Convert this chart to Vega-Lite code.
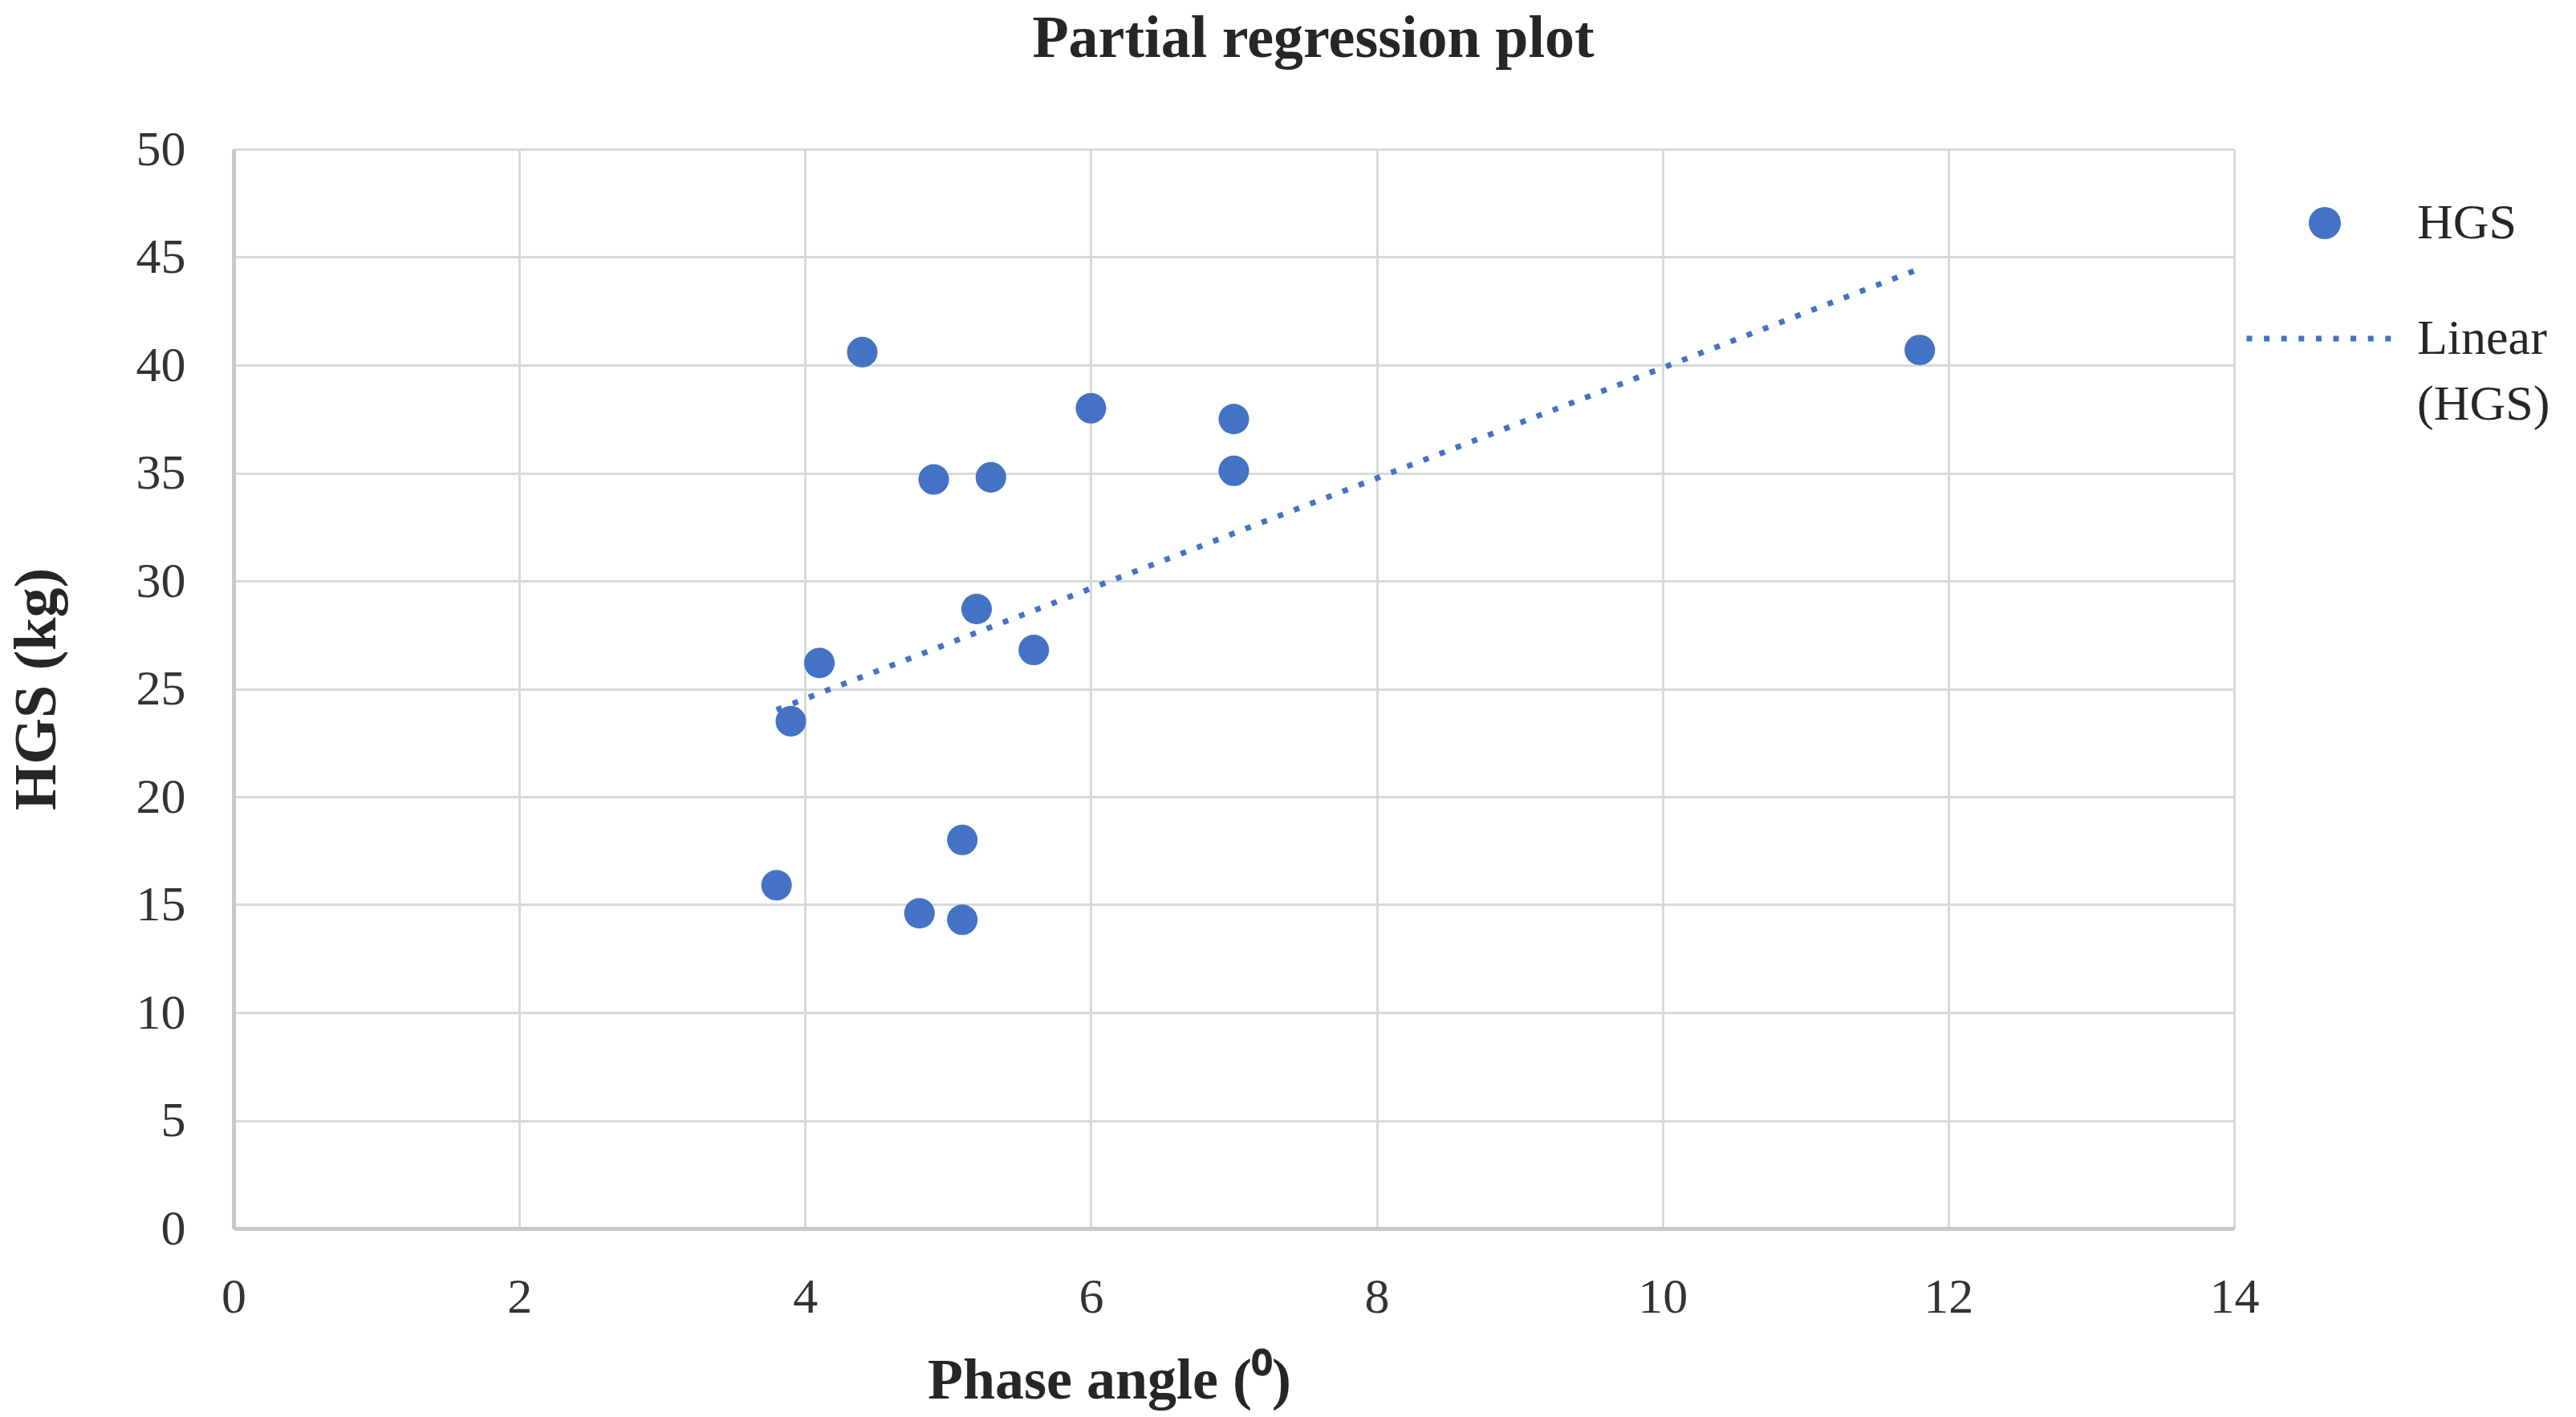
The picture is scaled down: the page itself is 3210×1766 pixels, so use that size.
{
  "$schema": "https://vega.github.io/schema/vega-lite/v6.json",
  "width": 2493,
  "height": 1345,
  "autosize": {"type": "none"},
  "padding": {"left": 291, "top": 186, "right": 426, "bottom": 235},
  "background": "white",
  "config": {
    "view": {"stroke": null},
    "font": "Liberation Serif",
    "style": {"guide-label": {"lineHeight": 82}}
  },
  "title": {
    "text": "Partial regression plot",
    "font": "Liberation Serif",
    "fontSize": 74,
    "fontWeight": "bold",
    "color": "#262626",
    "anchor": "middle",
    "frame": "group",
    "baseline": "alphabetic",
    "offset": 10,
    "dx": 99
  },
  "data": {
    "values": [
      {"pa": 3.8, "hgs": 15.9},
      {"pa": 3.9, "hgs": 23.5},
      {"pa": 4.1, "hgs": 26.2},
      {"pa": 4.4, "hgs": 40.6},
      {"pa": 4.8, "hgs": 14.6},
      {"pa": 4.9, "hgs": 34.7},
      {"pa": 5.1, "hgs": 18.0},
      {"pa": 5.1, "hgs": 14.3},
      {"pa": 5.2, "hgs": 28.7},
      {"pa": 5.3, "hgs": 34.8},
      {"pa": 5.6, "hgs": 26.8},
      {"pa": 6.0, "hgs": 38.0},
      {"pa": 7.0, "hgs": 37.5},
      {"pa": 7.0, "hgs": 35.1},
      {"pa": 11.8, "hgs": 40.7}
    ]
  },
  "layer": [
    {
      "mark": {"type": "point", "filled": true, "opacity": 1, "size": 1450, "shape": "circle"},
      "encoding": {
        "x": {
          "field": "pa",
          "type": "quantitative",
          "scale": {"domain": [0, 14], "nice": false, "zero": false},
          "axis": {
            "values": [0, 2, 4, 6, 8, 10, 12, 14],
            "format": "d",
            "title": "Phase angle (⁰)",
            "titleFont": "Liberation Serif",
            "titleFontSize": 72,
            "titleFontWeight": "bold",
            "titleColor": "#262626",
            "titlePadding": 38,
            "titleX": 1091,
            "labelFont": "Liberation Serif",
            "labelFontSize": 62,
            "labelColor": "#333333",
            "labelPadding": 55,
            "labelFlush": false,
            "labelOverlap": false,
            "tickSize": 0,
            "grid": true,
            "gridColor": "#d9d9d9",
            "gridWidth": 3,
            "domainColor": "#c8c8c8",
            "domainWidth": 5
          }
        },
        "y": {
          "field": "hgs",
          "type": "quantitative",
          "scale": {"domain": [0, 50], "nice": false},
          "axis": {
            "values": [0, 5, 10, 15, 20, 25, 30, 35, 40, 45, 50],
            "title": "HGS (kg)",
            "titleFont": "Liberation Serif",
            "titleFontSize": 74,
            "titleFontWeight": "bold",
            "titleColor": "#262626",
            "titlePadding": 85,
            "labelFont": "Liberation Serif",
            "labelFontSize": 62,
            "labelColor": "#333333",
            "labelPadding": 60,
            "labelFlush": false,
            "labelOverlap": false,
            "tickSize": 0,
            "grid": true,
            "gridColor": "#d9d9d9",
            "gridWidth": 3,
            "domainColor": "#c8c8c8",
            "domainWidth": 5
          }
        },
        "color": {
          "datum": "HGS",
          "type": "nominal",
          "scale": {"domain": ["HGS"], "range": ["#4472C4"]},
          "legend": {
            "orient": "none",
            "legendX": 2575,
            "legendY": 61,
            "title": null,
            "symbolType": "circle",
            "symbolSize": 1600,
            "symbolStrokeWidth": 0,
            "symbolOpacity": 1,
            "labelOffset": 84,
            "labelFont": "Liberation Serif",
            "labelFontSize": 62,
            "labelColor": "#262626",
            "labelLimit": 0,
            "padding": 0
          }
        }
      }
    },
    {
      "transform": [{"regression": "hgs", "on": "pa", "extent": [3.8, 11.8]}],
      "mark": {"type": "line", "color": "#4472C4", "strokeWidth": 7},
      "encoding": {
        "x": {"field": "pa", "type": "quantitative"},
        "y": {"field": "hgs", "type": "quantitative"},
        "strokeDash": {
          "datum": "Linear (HGS)",
          "type": "nominal",
          "scale": {"domain": ["Linear (HGS)"], "range": [[7, 14.6]]},
          "legend": {
            "orient": "none",
            "legendX": 2505,
            "legendY": 140,
            "title": null,
            "symbolType": "stroke",
            "symbolSize": 34225,
            "symbolStrokeColor": "#4472C4",
            "symbolStrokeWidth": 7,
            "symbolDash": [7, 14.6],
            "labelOffset": 24,
            "labelFont": "Liberation Serif",
            "labelFontSize": 62,
            "labelColor": "#262626",
            "labelLimit": 0,
            "labelBaseline": "middle",
            "padding": 0,
            "labelExpr": "['Linear', '(HGS)']"
          }
        }
      }
    }
  ]
}
